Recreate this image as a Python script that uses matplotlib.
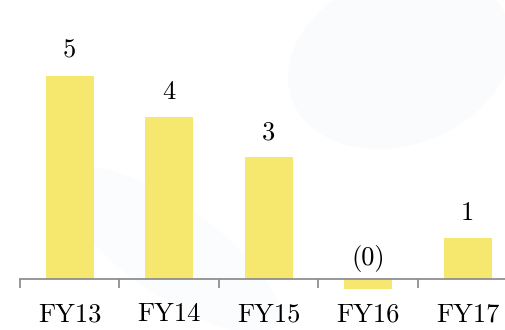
import numpy as np
import matplotlib
matplotlib.use("Agg")
from matplotlib import pyplot as plt
from matplotlib.patches import Ellipse

years = ["FY13", "FY14", "FY15", "FY16", "FY17"]
values = [5, 4, 3, -0.25, 1]
value_labels = ["5", "4", "3", "(0)", "1"]

bar_color = "#F6E86E"
axis_color = "#8f8f8f"

plt.rcParams['font.family'] = ['cmr10', 'DejaVu Serif']
plt.rcParams['mathtext.fontset'] = 'cm'

fig = plt.figure(figsize=(5.06, 3.30), dpi=100)
fig.patch.set_facecolor("white")

# faint background blobs
bg = fig.add_axes([0, 0, 1, 1])
bg.set_xlim(0, 506)
bg.set_ylim(330, 0)
bg.axis("off")
bg.add_patch(Ellipse((400, 60), 230, 170, angle=-20, color="#FAFBFD", lw=0))
bg.add_patch(Ellipse((170, 250), 260, 90, angle=35, color="#FBFCFD", lw=0))

ax = fig.add_axes([20 / 506, 0, 1 - 20 / 506, 1])
ax.patch.set_alpha(0)
x = np.arange(len(years))
ax.bar(x, values, width=0.48, color=bar_color, zorder=2)

for xi, v, lab in zip(x, values, value_labels):
    off = 13 if v > 0 else 10
    ax.annotate(lab, (xi, max(v, 0)), xytext=(0, off), textcoords="offset points",
                ha="center", va="baseline", fontsize=19, color="#000000")

ax.set_xlim(-0.5, 4.385)
ax.set_ylim(-51 / 40.6, 279 / 40.6)

for s in ["top", "right", "left"]:
    ax.spines[s].set_visible(False)
ax.spines["bottom"].set_position(("data", 0))
ax.spines["bottom"].set_color(axis_color)
ax.spines["bottom"].set_linewidth(1.3)
ax.set_yticks([])

ax.set_xticks(np.arange(-0.5, 4.5, 1.0))
ax.set_xticklabels([])
ax.tick_params(axis="x", which="major", direction="out", length=6.5, width=1.3, color=axis_color)
ax.set_xticks(x, minor=True)
ax.set_xticklabels(years, minor=True, fontsize=19, color="#000000")
ax.tick_params(axis="x", which="minor", length=0, pad=17)

fig.savefig("out.png", dpi=100)
